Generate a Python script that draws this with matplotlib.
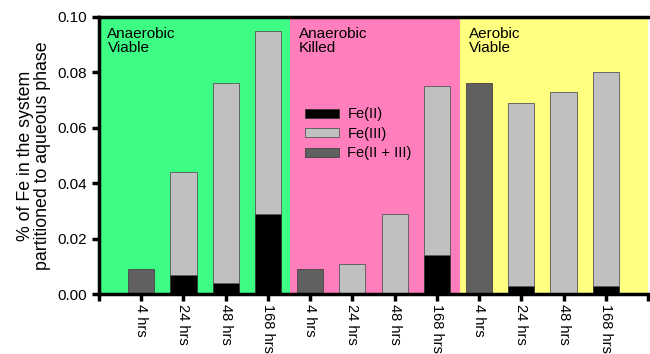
import numpy as np
import matplotlib.pyplot as plt

plt.rcParams['font.family'] = ['Liberation Sans', 'DejaVu Sans']

groups = ["Anaerobic\nViable", "Anaerobic\nKilled", "Aerobic\nViable"]
times = ["4 hrs", "24 hrs", "48 hrs", "168 hrs"]
# per bar, 3 groups x 4 times
fe2 = [0.0, 0.007, 0.004, 0.029,
       0.0, 0.0005, 0.0, 0.014,
       0.0, 0.003, 0.0, 0.003]
fe_total = [0.0, 0.044, 0.076, 0.095,
            0.0, 0.011, 0.029, 0.075,
            0.0, 0.069, 0.073, 0.080]
fe_mixed = [0.009, 0, 0, 0,
            0.009, 0, 0, 0,
            0.076, 0, 0, 0]

bg_colors = ["#3dfd85", "#ff7ebb", "#ffff80"]
bg_spans = [(0, 4.53), (4.53, 8.56), (8.56, 13)]

fig = plt.figure(figsize=(6.5, 3.54), dpi=100)
ax = fig.add_axes([99 / 650, 60 / 354, 549 / 650, 277 / 354])

for (a, b), c in zip(bg_spans, bg_colors):
    ax.axvspan(a, b, color=c, zorder=0, lw=0)
for (a, b), name in zip(bg_spans, groups):
    ax.text(a + 0.2, 0.0965, name, va='top', ha='left', fontsize=11,
            linespacing=1.05)

x = np.arange(1, 13)
fe3 = np.array(fe_total) - np.array(fe2)
w = 0.62
ax.bar(x, fe2, w, color='black', edgecolor='#333333', lw=0.6, label='Fe(II)', zorder=2)
ax.bar(x, fe3, w, bottom=fe2, color='#c0c0c0', edgecolor='#555555', lw=0.6, label='Fe(III)', zorder=2)
ax.bar(x, fe_mixed, w, color='#606060', edgecolor='#444444', lw=0.6, label='Fe(II + III)', zorder=2)

ax.set_xlim(0, 13)
ax.set_ylim(0, 0.10)
ax.set_yticks([0, 0.02, 0.04, 0.06, 0.08, 0.10])
ax.set_yticklabels(["0.00", "0.02", "0.04", "0.06", "0.08", "0.10"], fontsize=11)
ax.set_xticks(x)
ax.set_xticklabels(times * 3, rotation=270, fontsize=10.5)
ax.set_xticks([0, 13], minor=True)
ax.tick_params(axis='both', which='both', width=2.5, length=5, direction='out')
ax.tick_params(axis='x', pad=2)
for s in ax.spines.values():
    s.set_linewidth(2.5)
ax.spines['right'].set_visible(False)

ax.set_ylabel("% of Fe in the system\npartitioned to aqueous phase", fontsize=12.8,
              labelpad=5, linespacing=1.0)

ax.legend(loc='upper left', bbox_to_anchor=(0.362, 0.70), frameon=False,
          fontsize=10.5, handlelength=2.3, handleheight=0.6,
          labelspacing=0.38, handletextpad=0.6, borderpad=0)

fig.savefig("out.png", dpi=100)
